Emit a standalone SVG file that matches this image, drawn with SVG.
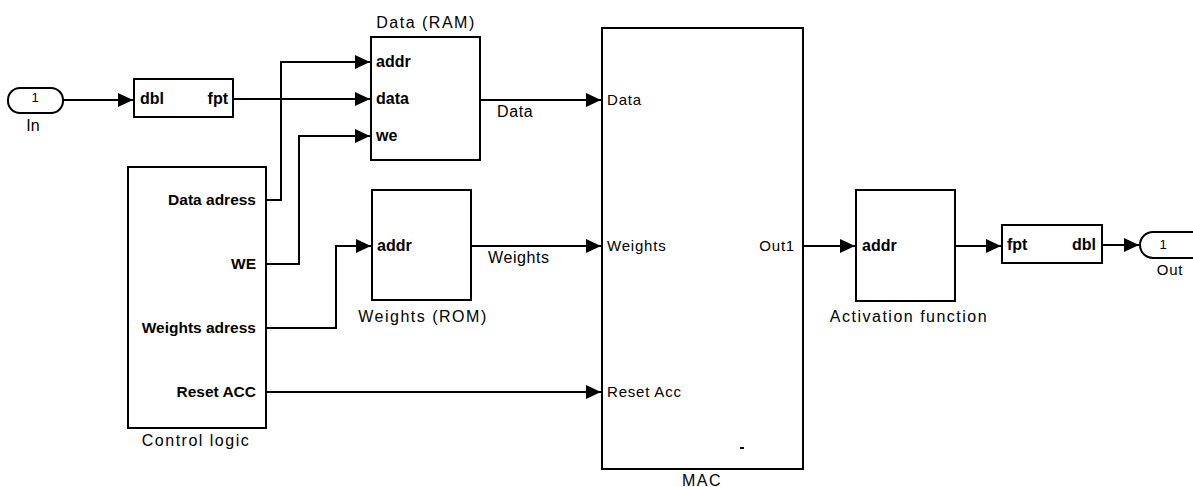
<svg xmlns="http://www.w3.org/2000/svg" width="1193" height="487" viewBox="0 0 1193 487">
<defs>
<marker id="ah" markerWidth="16" markerHeight="14" refX="15" refY="7" orient="auto" markerUnits="userSpaceOnUse">
<path d="M0,0 L15,7 L0,14 Z" fill="#000"/>
</marker>
<style>
.blk{fill:#fff;stroke:#000;stroke-width:2}
.w{fill:none;stroke:#000;stroke-width:2}
text{font-family:"Liberation Sans",Arial,sans-serif;font-size:16px;fill:#000}
.p{font-weight:bold;font-size:16px}
.s{font-weight:bold;font-size:15.5px}
.c{letter-spacing:0.6px}
.cap{letter-spacing:1.5px}
.mp{font-size:15px;letter-spacing:0.8px}
.n{font-size:13px}
.m{text-anchor:middle}
.e{text-anchor:end}
</style>
</defs>
<g id="connectors">
<path class="w" d="M63,100 H133" marker-end="url(#ah)"/>
<path class="w" d="M233,99 H370" marker-end="url(#ah)"/>
<path class="w" d="M266,200 H281 V62 H370" marker-end="url(#ah)"/>
<path class="w" d="M266,264 H299 V136 H370" marker-end="url(#ah)"/>
<path class="w" d="M266,328 H336 V246 H371" marker-end="url(#ah)"/>
<path class="w" d="M266,392 H601" marker-end="url(#ah)"/>
<path class="w" d="M480,100 H601" marker-end="url(#ah)"/>
<text class="c" x="497" y="117">Data</text>
<path class="w" d="M471,246 H601" marker-end="url(#ah)"/>
<text class="c" x="488" y="263">Weights</text>
<path class="w" d="M803,246 H855" marker-end="url(#ah)"/>
<path class="w" d="M955,246 H1001" marker-end="url(#ah)"/>
<path class="w" d="M1102,245 H1139" marker-end="url(#ah)"/>
</g>
<g id="in">
<rect class="blk" x="8" y="88" width="55" height="25" rx="12"/>
<text class="n m" x="35" y="102">1</text>
<text class="m" x="33" y="131">In</text>
</g>
<g id="dbl2fpt">
<rect class="blk" x="134" y="79" width="99" height="38"/>
<text class="p" x="140" y="104">dbl</text>
<text class="p e" x="228" y="104">fpt</text>
</g>
<g id="ram">
<rect class="blk" x="371" y="37" width="109" height="123"/>
<text class="cap m" x="426" y="28">Data (RAM)</text>
<text class="p" x="376" y="67">addr</text>
<text class="p" x="376" y="104">data</text>
<text class="p" x="376" y="141">we</text>
</g>
<g id="control">
<rect class="blk" x="128" y="167" width="138" height="261"/>
<text class="s e" x="256" y="205">Data adress</text>
<text class="s e" x="256" y="269">WE</text>
<text class="s e" x="256" y="333">Weights adress</text>
<text class="s e" x="256" y="397">Reset ACC</text>
<text class="cap m" x="196" y="446">Control logic</text>
</g>
<g id="rom">
<rect class="blk" x="372" y="190" width="99" height="110"/>
<text class="p" x="377" y="251">addr</text>
<text class="cap m" x="423" y="322">Weights (ROM)</text>
</g>
<g id="mac">
<rect class="blk" x="602" y="28" width="201" height="441"/>
<text class="mp" x="607" y="105">Data</text>
<text class="mp" x="607" y="251">Weights</text>
<text class="mp e" x="795" y="251">Out1</text>
<text class="mp" x="607" y="397">Reset Acc</text>
<text class="cap m" x="702" y="486">MAC</text>
<path d="M740,448 H744" stroke="#000" stroke-width="2"/>
</g>
<g id="activation">
<rect class="blk" x="856" y="190" width="99" height="111"/>
<text class="p" x="862" y="251">addr</text>
<text class="cap m" x="909" y="322">Activation function</text>
</g>
<g id="fpt2dbl">
<rect class="blk" x="1002" y="225" width="100" height="38"/>
<text class="p" x="1007" y="250">fpt</text>
<text class="p e" x="1096" y="250">dbl</text>
</g>
<g id="out">
<rect class="blk" x="1140" y="232" width="70" height="26" rx="13"/>
<text class="n m" x="1163" y="249">1</text>
<text class="mp m" x="1170" y="275">Out</text>
</g>
</svg>
